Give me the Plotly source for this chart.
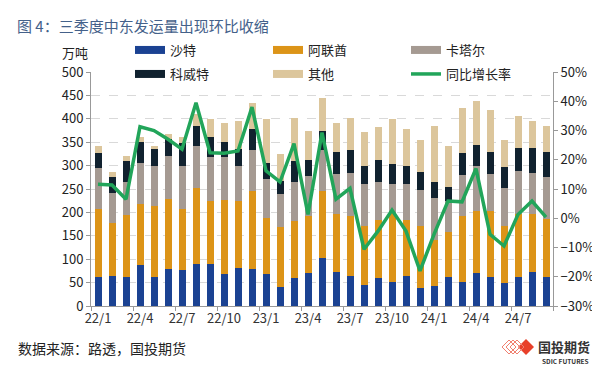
import plotly.graph_objects as go

months = ["22/1","22/2","22/3","22/4","22/5","22/6","22/7","22/8","22/9","22/10","22/11","22/12",
          "23/1","23/2","23/3","23/4","23/5","23/6","23/7","23/8","23/9","23/10","23/11","23/12",
          "24/1","24/2","24/3","24/4","24/5","24/6","24/7","24/8","24/9"]

saudi  = [62, 64, 63, 88, 63, 80, 78, 90, 90, 69, 82, 80, 68, 41, 59, 71, 103, 73, 64, 44, 59, 52, 64, 38, 43, 61, 52, 71, 63, 50, 61, 73, 63]
uae    = [145, 113, 131, 129, 151, 149, 129, 163, 134, 158, 142, 166, 119, 128, 123, 121, 143, 123, 128, 127, 125, 147, 119, 133, 99, 98, 140, 132, 139, 121, 135, 123, 122]
qatar  = [87, 65, 72, 89, 85, 91, 93, 89, 95, 91, 76, 87, 84, 70, 84, 86, 87, 85, 93, 89, 82, 62, 78, 76, 88, 65, 87, 96, 81, 82, 92, 89, 91]
kuwait = [34, 34, 44, 44, 36, 36, 49, 43, 42, 32, 35, 45, 35, 28, 44, 35, 42, 49, 48, 39, 45, 43, 38, 40, 34, 31, 47, 45, 46, 43, 49, 52, 54]
others = [14, 11, 10, 12, 7, 12, 13, 25, 38, 41, 60, 56, 93, 57, 92, 62, 70, 62, 68, 73, 72, 96, 79, 67, 121, 87, 98, 94, 90, 58, 68, 58, 55]
yoy    = [11.6, 11.4, 6.5, 31.3, 30.0, 27.0, 23.6, 39.5, 22.4, 22.2, 23.0, 38.0,
          16.2, 12.4, 25.5, 1.3, 29.3, 6.5, 10.2, -10.6, -4.4, 2.8, -4.4, -18.0,
          -5.5, 5.9, 5.6, 17.0, -5.5, -9.5, 1.3, 5.9, 0.4]

names = ["沙特", "阿联酋", "卡塔尔", "科威特", "其他"]
colors = ["#1b4292", "#dc9418", "#a59a92", "#11222f", "#dcc69c"]
series = [saudi, uae, qatar, kuwait, others]
line_name = "同比增长率"
line_color = "#22a55a"

fig = go.Figure()
for nm, col, vals in zip(names, colors, series):
    fig.add_trace(go.Bar(x=months, y=vals, name=nm, marker=dict(color=col, line=dict(width=0)),
                         showlegend=False))
fig.add_trace(go.Scatter(x=months, y=yoy, name=line_name, mode="lines", yaxis="y2",
                         line=dict(color=line_color, width=3.5), showlegend=False))

# legend proxies (wide swatches), two rows of three
legend_order = ["沙特", "阿联酋", "卡塔尔", "科威特", "其他", line_name]
legend_colors = {**dict(zip(names, colors)), line_name: line_color}
for i, nm in enumerate(legend_order):
    fig.add_trace(go.Scatter(x=[None], y=[None], mode="lines", name=nm,
                             legend="legend" if i < 3 else "legend2",
                             line=dict(color=legend_colors[nm], width=8 if nm != line_name else 3.5)))

leg_common = dict(orientation="h", x=(122 - 83) / 462, xanchor="left", yanchor="middle",
                  yref="container", entrywidth=93, entrywidthmode="pixels",
                  font=dict(size=13, color="#222"), bgcolor="rgba(0,0,0,0)", traceorder="normal")

fig.update_layout(
    width=600, height=365,
    margin=dict(l=83, r=55, t=64, b=67, autoexpand=False),
    barmode="stack", bargap=0.5,
    plot_bgcolor="white", paper_bgcolor="white",
    font=dict(family="Noto Sans CJK SC, Microsoft YaHei, sans-serif", size=12, color="#222"),
    showlegend=True,
    legend=dict(y=1 - 42 / 365, **leg_common),
    legend2=dict(y=1 - 66 / 365, **leg_common),
    xaxis=dict(type="category", dtick=3, tickson="boundaries", ticks="outside", ticklen=4,
               tickcolor="#999", showline=True, linecolor="#999", linewidth=1, tickangle=0,
               showgrid=False, tickfont=dict(size=13, color="#333"), range=[-0.5, 32.5]),
    yaxis=dict(range=[0, 500], dtick=50, showgrid=True, gridcolor="#d9d9d9", griddash="dash",
               showline=True, linecolor="#999", ticks="outside", ticklen=4, tickcolor="#999",
               tickfont=dict(size=13, color="#222"), zeroline=False),
    yaxis2=dict(overlaying="y", side="right", range=[-30, 50], dtick=10, ticksuffix="%",
                showgrid=False, showline=True, linecolor="#999", ticks="outside", ticklen=4,
                tickcolor="#999", tickfont=dict(size=13, color="#222"), zeroline=False),
)

fig.add_annotation(text="图 4：三季度中东发运量出现环比收缩", xref="paper", yref="paper",
                   x=-83/462 + 7/462, y=1 + (64-17)/234, xanchor="left", yanchor="middle",
                   showarrow=False, font=dict(size=15, color="#44618a", family="Noto Sans CJK SC"))
fig.add_annotation(text="万吨", xref="paper", yref="paper", x=(67-83)/462, y=1 + (64-44)/234,
                   xanchor="center", yanchor="middle", showarrow=False, borderpad=0,
                   font=dict(size=13, color="#222"))
fig.add_annotation(text="数据来源：路透，国投期货", xref="paper", yref="paper", x=-83/462 + 8/462,
                   y=-(340-298)/234, xanchor="left", yanchor="middle", showarrow=False,
                   font=dict(size=14, color="#222"))
fig.add_annotation(text="<b>国投期货</b>", xref="paper", yref="paper", x=(556-83)/462,
                   y=-(338-298)/234, xanchor="center", yanchor="middle", showarrow=False,
                   font=dict(size=13, color="#333"))
fig.add_annotation(text="<b>SDIC FUTURES</b>", xref="paper", yref="paper", x=(557-83)/462,
                   y=-(353-298)/234, xanchor="center", yanchor="middle", showarrow=False,
                   font=dict(size=6.5, color="#333"))
# logo: red diamond
fig.add_shape(type="path", xref="paper", yref="paper",
              path="M {a},{b} L {c},{d} L {e},{b} L {c},{f} Z".format(
                  a=(510-83)/462, b=-(339-298)/234, c=(518-83)/462, d=-(331-298)/234,
                  e=(526-83)/462, f=-(347-298)/234),
              fillcolor="#e8402a", line=dict(width=0))
for dx in [0, 4, 8]:
    fig.add_shape(type="path", xref="paper", yref="paper",
                  path="M {a},{b} L {c},{d} L {e},{b} L {c},{f} Z".format(
                      a=(494+dx-83)/462, b=-(339-298)/234, c=(501+dx-83)/462, d=-(332-298)/234,
                      e=(508+dx-83)/462, f=-(346-298)/234),
                  fillcolor="rgba(0,0,0,0)", line=dict(width=1, color="#f08070"))

fig.write_html("out.html")
